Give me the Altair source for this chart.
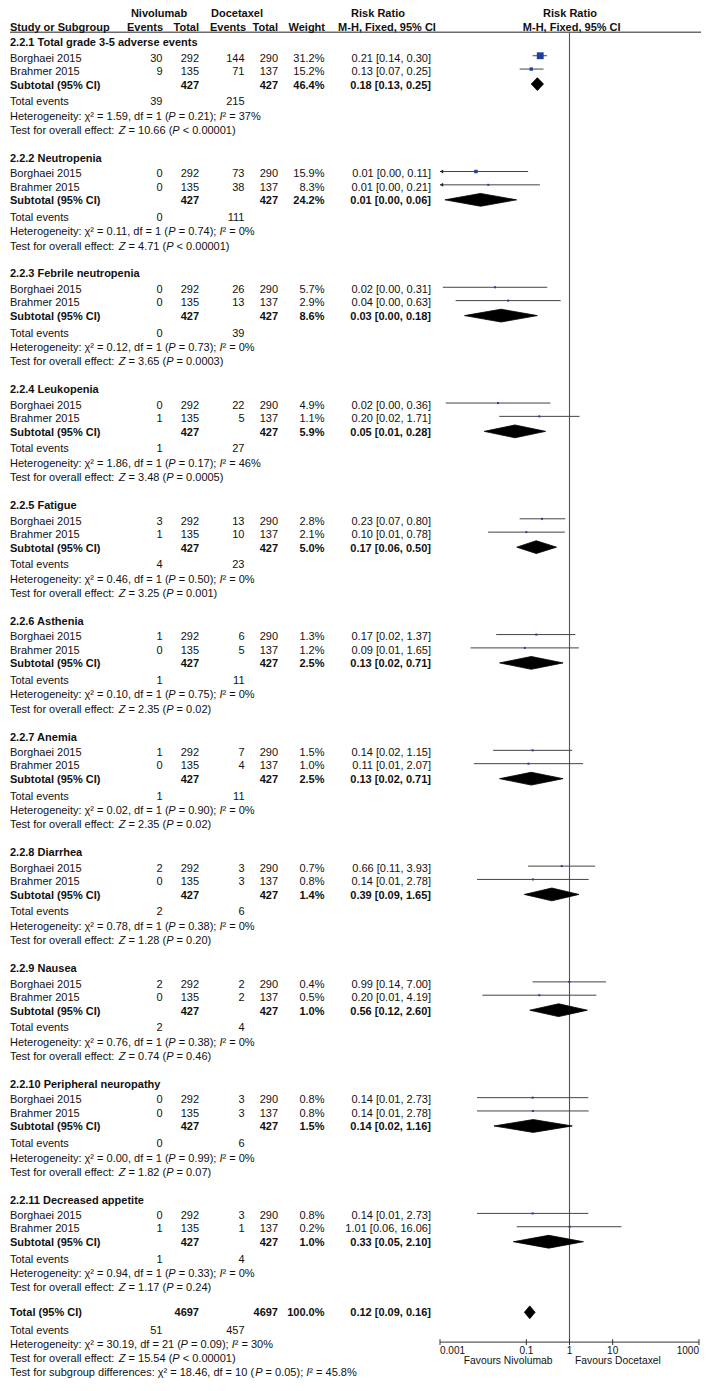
import altair as alt
import pandas as pd

# ------------------------------------------------------------------ data
subgroups = [
    "2.2.1 Total grade 3-5 adverse events",
    "2.2.2 Neutropenia",
    "2.2.3 Febrile neutropenia",
    "2.2.4 Leukopenia",
    "2.2.5 Fatigue",
    "2.2.6 Asthenia",
    "2.2.7 Anemia",
    "2.2.8 Diarrhea",
    "2.2.9 Nausea",
    "2.2.10 Peripheral neuropathy",
    "2.2.11 Decreased appetite",
]
studies = ["Borghaei 2015", "Brahmer 2015"]
nivo_totals = [292, 135]
doce_totals = [290, 137]
nivo_events = [[30, 9], [0, 0], [0, 0], [0, 1], [3, 1], [1, 0], [1, 0], [2, 0], [2, 0], [0, 0], [0, 1]]
doce_events = [[144, 71], [73, 38], [26, 13], [22, 5], [13, 10], [6, 5], [7, 4], [3, 3], [2, 2], [3, 3], [3, 1]]
study_weights = [["31.2%", "15.2%"], ["15.9%", "8.3%"], ["5.7%", "2.9%"], ["4.9%", "1.1%"],
                 ["2.8%", "2.1%"], ["1.3%", "1.2%"], ["1.5%", "1.0%"], ["0.7%", "0.8%"],
                 ["0.4%", "0.5%"], ["0.8%", "0.8%"], ["0.8%", "0.2%"]]
subtotal_weights = ["46.4%", "24.2%", "8.6%", "5.9%", "5.0%", "2.5%", "2.5%", "1.4%", "1.0%", "1.5%", "1.0%"]
study_ci_text = [
    ["0.21 [0.14, 0.30]", "0.13 [0.07, 0.25]"],
    ["0.01 [0.00, 0.11]", "0.01 [0.00, 0.21]"],
    ["0.02 [0.00, 0.31]", "0.04 [0.00, 0.63]"],
    ["0.02 [0.00, 0.36]", "0.20 [0.02, 1.71]"],
    ["0.23 [0.07, 0.80]", "0.10 [0.01, 0.78]"],
    ["0.17 [0.02, 1.37]", "0.09 [0.01, 1.65]"],
    ["0.14 [0.02, 1.15]", "0.11 [0.01, 2.07]"],
    ["0.66 [0.11, 3.93]", "0.14 [0.01, 2.78]"],
    ["0.99 [0.14, 7.00]", "0.20 [0.01, 4.19]"],
    ["0.14 [0.01, 2.73]", "0.14 [0.01, 2.78]"],
    ["0.14 [0.01, 2.73]", "1.01 [0.06, 16.06]"],
]
subtotal_ci_text = ["0.18 [0.13, 0.25]", "0.01 [0.00, 0.06]", "0.03 [0.00, 0.18]", "0.05 [0.01, 0.28]",
                    "0.17 [0.06, 0.50]", "0.13 [0.02, 0.71]", "0.13 [0.02, 0.71]", "0.39 [0.09, 1.65]",
                    "0.56 [0.12, 2.60]", "0.14 [0.02, 1.16]", "0.33 [0.05, 2.10]"]
subtotal_n = [427, 427]
total_events_nivo = [39, 0, 0, 1, 4, 1, 1, 2, 2, 0, 1]
total_events_doce = [215, 111, 39, 27, 23, 11, 11, 6, 4, 6, 4]
het_chi2 = ["1.59", "0.11", "0.12", "1.86", "0.46", "0.10", "0.02", "0.78", "0.76", "0.00", "0.94"]
het_p = ["0.21", "0.74", "0.73", "0.17", "0.50", "0.75", "0.90", "0.38", "0.38", "0.99", "0.33"]
het_i2 = ["37%", "0%", "0%", "46%", "0%", "0%", "0%", "0%", "0%", "0%", "0%"]
overall_z = ["10.66", "4.71", "3.65", "3.48", "3.25", "2.35", "2.35", "1.28", "0.74", "1.82", "1.17"]
overall_p = ["< 0.00001", "< 0.00001", "= 0.0003", "= 0.0005", "= 0.001", "= 0.02", "= 0.02",
             "= 0.20", "= 0.46", "= 0.07", "= 0.24"]

# risk ratios as drawn; None = lower limit beyond the axis (arrow)
study_rr = [[0.21, 0.13], [0.0068, 0.0131], [0.0188, 0.0379], [0.0221, 0.20], [0.23, 0.10],
            [0.17, 0.092], [0.14, 0.112], [0.66, 0.142], [0.99, 0.20], [0.14, 0.142], [0.14, 1.01]]
study_lo = [[0.14, 0.07], [None, None], [0.00116, 0.0023], [0.00136, 0.0236], [0.07, 0.013],
            [0.02, 0.0051], [0.017, 0.0061], [0.11, 0.0072], [0.14, 0.0096], [0.0072, 0.0072], [0.0072, 0.06]]
study_hi = [[0.30, 0.25], [0.11, 0.206], [0.306, 0.625], [0.36, 1.71], [0.80, 0.78], [1.37, 1.65],
            [1.15, 2.07], [3.93, 2.78], [7.00, 4.19], [2.73, 2.78], [2.73, 16.06]]
sub_rr = [0.18, 0.0087, 0.026, 0.0545, 0.17, 0.13, 0.13, 0.39, 0.56, 0.144, 0.33]
sub_lo = [0.13, 0.0013, 0.0037, 0.0106, 0.06, 0.024, 0.024, 0.09, 0.12, 0.0178, 0.05]
sub_hi = [0.25, 0.0596, 0.18, 0.28, 0.50, 0.71, 0.71, 1.65, 2.60, 1.16, 2.10]
overall_rr, overall_lo, overall_hi = 0.12, 0.09, 0.16
overall_ci_text = "0.12 [0.09, 0.16]"
overall_n = [4697, 4697]
overall_events = [51, 457]
overall_het = ("30.19", "21", "0.09", "30%")
overall_effect = ("15.54", "< 0.00001")
subgroup_diff = ("18.46", "10", "0.05", "45.8%")

tick_values = [0.001, 0.1, 1, 10, 1000]
tick_labels = ["0.001", "0.1", "1", "10", "1000"]
favours_left = "Favours Nivolumab"
favours_right = "Favours Docetaxel"

# ------------------------------------------------------------------ layout
FONT = "Liberation Sans"
W, H = 693, 1370
MARGIN = 8
REF_Y0, REF_Y1 = 5.0, 1381.5
yscale = alt.Scale(domain=[REF_Y0, REF_Y1], range=[6, 1364.5], nice=False, zero=False)
xlog = alt.Scale(type="log", domain=[0.001, 1000], range=[440 - MARGIN, 699 - MARGIN], nice=False)
xpix = alt.Scale(domain=[0, W], range=[0, W], nice=False, zero=False)

X_STUDY, X_NE, X_NT, X_DE, X_DT, X_W, X_CI = 10, 162.5, 199, 244.5, 278, 324.5, 431
G0, GSTEP = 34.3, 117.3
OFF = dict(title=0, s1=15.8, s2=29.3, sub=43.2, tev=60.0, het=74.7, test=89.0)
HEADER_LINE_Y = 23.5
AXIS_Y = 1350.7
STUDY_DY, DIAMOND_DY = -2.8, -1.5
DIAMOND_HALF = 6.5

# Arial / Liberation Sans advance widths (1/1000 em) for the rich-text lines
ADV = {" ": 278, "%": 889, "(": 333, ")": 333, ",": 278, "-": 333, ".": 278, ":": 278, ";": 278,
       "<": 584, "=": 584, "²": 333, "χ": 500, "H": 722, "T": 611, "P": 667, "Z": 611, "I": 278,
       "a": 556, "b": 556, "c": 500, "d": 556, "e": 556, "f": 278, "g": 556, "h": 556, "i": 222,
       "l": 222, "n": 556, "o": 556, "p": 556, "r": 333, "s": 500, "t": 278, "u": 556, "v": 500,
       "y": 500}
for dgt in "0123456789":
    ADV[dgt] = 556


def text_width(s, size):
    return sum(ADV.get(ch, 556) for ch in s) / 1000.0 * size


rows = []


def add(text, x, y, align="left", bold=False, size=11, italic=False):
    rows.append(dict(text=str(text), x=x - MARGIN, y=y, align=align, bold=bold, size=size, italic=italic))


def add_rich(parts, x0, y, size=11):
    full = ""
    for txt, ital in parts:
        lead = len(txt) - len(txt.lstrip(" "))
        core = txt.strip(" ")
        if core:
            add(core, x0 + text_width(full + txt[:lead], size), y, "left", False, size, ital)
        full += txt


def het_line(chi2, df, p, i2, x0, y, prefix="Heterogeneity: "):
    add_rich([(f"{prefix}χ² = {chi2}, df = {df} (", False), ("P", True), (f" = {p}); ", False),
              ("I", True), (f"² = {i2}", False)], x0, y)


def effect_line(z, p, x0, y):
    add_rich([("Test for overall effect: ", False), ("Z", True), (f" = {z} (", False), ("P", True),
              (f" {p})", False)], x0, y)


# header
add("Nivolumab", 159, 5, "center", True)
add("Docetaxel", 237, 5, "center", True)
add("Risk Ratio", 378, 5, "center", True)
add("Risk Ratio", 570, 5, "center", True)
add("Study or Subgroup", X_STUDY, 19, "left", True)
add("Events", 163, 19, "right", True)
add("Total", X_NT, 19, "right", True)
add("Events", 246, 19, "right", True)
add("Total", X_DT, 19, "right", True)
add("Weight", 325, 19, "right", True)
add("M-H, Fixed, 95% CI", 387, 19, "center", True)
add("M-H, Fixed, 95% CI", 571.7, 19, "center", True)

sq_rows, ci_rows, arrow_rows, dia_rows, dia_outline = [], [], [], [], []


def add_diamond(gid, lo, pt, hi, yc):
    dia_rows.extend([dict(gid=gid, x=lo, ya=yc, yb=yc),
                     dict(gid=gid, x=pt, ya=yc - DIAMOND_HALF, yb=yc + DIAMOND_HALF),
                     dict(gid=gid, x=hi, ya=yc, yb=yc)])
    for k, (xx, yy) in enumerate([(lo, yc), (pt, yc - DIAMOND_HALF), (hi, yc),
                                  (pt, yc + DIAMOND_HALF), (lo, yc)]):
        dia_outline.append(dict(gid=gid, k=k, x=xx, y=yy))


for g, name in enumerate(subgroups):
    base = G0 + g * GSTEP
    add(name, X_STUDY, base + OFF["title"], "left", True)
    for s, st in enumerate(studies):
        y = base + OFF["s1" if s == 0 else "s2"]
        add(st, X_STUDY, y)
        add(nivo_events[g][s], X_NE, y, "right")
        add(nivo_totals[s], X_NT, y, "right")
        add(doce_events[g][s], X_DE, y, "right")
        add(doce_totals[s], X_DT, y, "right")
        add(study_weights[g][s], X_W, y, "right")
        add(study_ci_text[g][s], X_CI, y, "right")
        py = y + STUDY_DY
        lo = study_lo[g][s]
        if lo is None:
            lo = tick_values[0]
            arrow_rows.append(dict(x=lo, y=py))
        ci_rows.append(dict(lo=lo, hi=study_hi[g][s], y=py))
        side = max(2.0, 0.22 * float(study_weights[g][s].rstrip("%")))
        sq_rows.append(dict(x=study_rr[g][s], y=py, size=side * side))
    y = base + OFF["sub"]
    add("Subtotal (95% CI)", X_STUDY, y, "left", True)
    add(subtotal_n[0], X_NT, y, "right", True)
    add(subtotal_n[1], X_DT, y, "right", True)
    add(subtotal_weights[g], X_W, y, "right", True)
    add(subtotal_ci_text[g], X_CI, y, "right", True)
    add_diamond(g, sub_lo[g], sub_rr[g], sub_hi[g], y + DIAMOND_DY)
    add("Total events", X_STUDY, base + OFF["tev"])
    add(total_events_nivo[g], X_NE, base + OFF["tev"], "right")
    add(total_events_doce[g], X_DE, base + OFF["tev"], "right")
    het_line(het_chi2[g], 1, het_p[g], het_i2[g], X_STUDY, base + OFF["het"])
    effect_line(overall_z[g], overall_p[g], X_STUDY, base + OFF["test"])

# overall
YT = 1321.0
add("Total (95% CI)", X_STUDY, YT, "left", True)
add(overall_n[0], X_NT, YT, "right", True)
add(overall_n[1], X_DT, YT, "right", True)
add("100.0%", X_W, YT, "right", True)
add(overall_ci_text, X_CI, YT, "right", True)
add_diamond(99, overall_lo, overall_rr, overall_hi, YT - 0.5)
add("Total events", X_STUDY, 1339)
add(overall_events[0], X_NE, 1339, "right")
add(overall_events[1], X_DE, 1339, "right")
het_line(*overall_het, X_STUDY, 1353.5)
effect_line(*overall_effect, X_STUDY, 1367.5)
het_line(*subgroup_diff, X_STUDY, 1381.5, prefix="Test for subgroup differences: ")

# favours labels
add(favours_left, 552.5, 1370.3, "right", False, 10.3)
add(favours_right, 575, 1370.3, "left", False, 10.3)

text_df = pd.DataFrame(rows)

layers = []

# header line
layers.append(alt.Chart(pd.DataFrame({"y": [HEADER_LINE_Y]})).mark_rule(color="#6b6b6b", strokeWidth=1.4).encode(
    y=alt.Y("y:Q", scale=yscale, axis=None), x=alt.value(2), x2=alt.value(W)))

# text layers
for (align, bold, size, italic), sub in text_df.groupby(["align", "bold", "size", "italic"]):
    layers.append(alt.Chart(sub).mark_text(
        align=align, baseline="middle", font=FONT, fontSize=size,
        fontWeight="bold" if bold else "normal", fontStyle="italic" if italic else "normal",
        color="#111111").encode(
        x=alt.X("x:Q", scale=xpix, axis=None),
        y=alt.Y("y:Q", scale=yscale, axis=None),
        text="text:N"))

# null line
layers.append(alt.Chart(pd.DataFrame({"x": [1.0], "y": [HEADER_LINE_Y], "y2": [AXIS_Y]})).mark_rule(
    color="#555555", strokeWidth=1.1).encode(
    x=alt.X("x:Q", scale=xlog, axis=None), y=alt.Y("y:Q", scale=yscale, axis=None), y2="y2:Q"))

# axis line + ticks + labels
layers.append(alt.Chart(pd.DataFrame({"x": [tick_values[0]], "x2": [tick_values[-1]], "y": [AXIS_Y]})).mark_rule(
    color="#333333", strokeWidth=1).encode(
    x=alt.X("x:Q", scale=xlog, axis=None), x2="x2:Q", y=alt.Y("y:Q", scale=yscale, axis=None)))
tick_df = pd.DataFrame({"x": tick_values, "y": [AXIS_Y - 3] * len(tick_values),
                        "y2": [AXIS_Y + 3] * len(tick_values), "label": tick_labels})
layers.append(alt.Chart(tick_df).mark_rule(color="#333333", strokeWidth=1).encode(
    x=alt.X("x:Q", scale=xlog, axis=None), y=alt.Y("y:Q", scale=yscale, axis=None), y2="y2:Q"))
tick_df["ly"] = AXIS_Y + 9.0
tick_df["align"] = ["left"] + ["center"] * (len(tick_values) - 2) + ["right"]
for align, sub in tick_df.groupby("align"):
    layers.append(alt.Chart(sub).mark_text(align=align, baseline="middle", font=FONT, fontSize=10,
                                           color="#111111").encode(
        x=alt.X("x:Q", scale=xlog, axis=None), y=alt.Y("ly:Q", scale=yscale, axis=None), text="label:N"))

# CI lines
layers.append(alt.Chart(pd.DataFrame(ci_rows)).mark_rule(color="#444444", strokeWidth=1).encode(
    x=alt.X("lo:Q", scale=xlog, axis=None), x2="hi:Q", y=alt.Y("y:Q", scale=yscale, axis=None)))
# arrows
layers.append(alt.Chart(pd.DataFrame(arrow_rows)).mark_point(
    shape="M0,0L1.6,-1L1.6,1Z", filled=True, size=16, color="#222222", opacity=1).encode(
    x=alt.X("x:Q", scale=xlog, axis=None), y=alt.Y("y:Q", scale=yscale, axis=None)))
# squares
layers.append(alt.Chart(pd.DataFrame(sq_rows)).mark_square(color="#1f3f9c", opacity=1).encode(
    x=alt.X("x:Q", scale=xlog, axis=None), y=alt.Y("y:Q", scale=yscale, axis=None),
    size=alt.Size("size:Q", scale=None)))
# diamonds (filled area + outline)
layers.append(alt.Chart(pd.DataFrame(dia_rows)).mark_area(color="black", opacity=1).encode(
    x=alt.X("x:Q", scale=xlog, axis=None),
    y=alt.Y("ya:Q", scale=yscale, axis=None, stack=None), y2="yb:Q",
    detail="gid:N"))
layers.append(alt.Chart(pd.DataFrame(dia_outline)).mark_line(color="black", strokeWidth=0.8).encode(
    x=alt.X("x:Q", scale=xlog, axis=None), y=alt.Y("y:Q", scale=yscale, axis=None),
    detail="gid:N", order="k:Q"))

chart = alt.layer(*layers).properties(
    width=W, height=H, padding=0, autosize=alt.AutoSizeParams(type="none")
).resolve_scale(x="independent").configure_view(stroke=None)

chart.save("out.html", embed_options={"renderer": "svg", "actions": False})
